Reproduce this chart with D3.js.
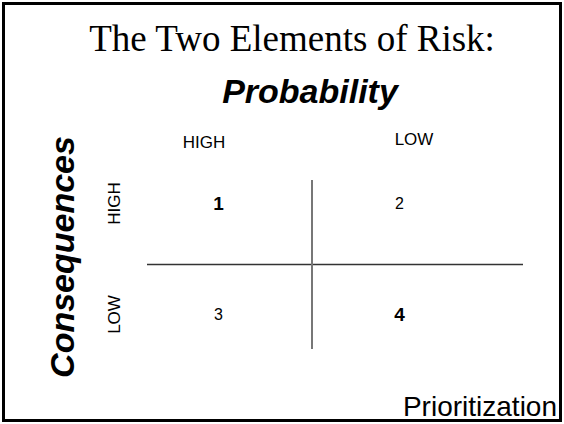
<!DOCTYPE html>
<html>
<head>
<meta charset="utf-8">
<script src="https://cdn.jsdelivr.net/npm/d3@7"></script>
<style>
  html, body { margin: 0; padding: 0; background: #fff; }
  svg { display: block; }
</style>
</head>
<body>
<div id="chart"></div>
<script>
"use strict";

// chart content
var titleLine = "The Two Elements of Risk:";
var columnTitle = "Probability";
var rowTitle = "Consequences";
var footerText = "Prioritization";

var probabilityLevels = ["HIGH", "LOW"];
var consequenceLevels = ["HIGH", "LOW"];

// priority rank of each quadrant
var cellProbability = ["HIGH", "LOW", "HIGH", "LOW"];
var cellConsequence = ["HIGH", "HIGH", "LOW", "LOW"];
var cellRank = [1, 2, 3, 4];

var width = 564, height = 424;
var sans = "Arial, 'Liberation Sans', Helvetica, sans-serif";
var serif = "'Times New Roman', 'Liberation Serif', Times, serif";

var svg = d3.select("#chart").append("svg")
    .attr("width", width)
    .attr("height", height);

// frame
svg.append("rect")
    .attr("x", 3.5).attr("y", 3.5)
    .attr("width", width - 7).attr("height", height - 7)
    .attr("fill", "#fff")
    .attr("stroke", "#000")
    .attr("stroke-width", 3);

// scales for the 2x2 grid
var x = d3.scaleBand().domain(probabilityLevels).range([128, 490]);
var y = d3.scaleBand().domain(consequenceLevels).range([148, 370]);
var headerX = d3.scalePoint().domain(probabilityLevels).range([204, 414]);

svg.append("text")
    .attr("x", 292).attr("y", 51)
    .attr("text-anchor", "middle")
    .style("font-family", serif)
    .style("font-size", "37px")
    .text(titleLine);

svg.append("text")
    .attr("x", 310).attr("y", 103)
    .attr("text-anchor", "middle")
    .style("font-family", sans)
    .style("font-size", "34px")
    .style("font-weight", "bold")
    .style("font-style", "italic")
    .text(columnTitle);

svg.append("text")
    .attr("transform", "translate(74," + 257 + ") rotate(-90)")
    .attr("text-anchor", "middle")
    .style("font-family", sans)
    .style("font-size", "34px")
    .style("font-weight", "bold")
    .style("font-style", "italic")
    .text(rowTitle);

// column headers
svg.selectAll("text.col-head")
    .data(probabilityLevels)
  .enter().append("text")
    .attr("class", "col-head")
    .attr("x", function (d) { return headerX(d); })
    .attr("y", function (d, i) { return i === 0 ? 148 : 145; })
    .attr("text-anchor", "middle")
    .style("font-family", sans)
    .style("font-size", "17px")
    .text(function (d) { return d; });

// row headers, rotated
svg.selectAll("text.row-head")
    .data(consequenceLevels)
  .enter().append("text")
    .attr("class", "row-head")
    .attr("transform", function (d) {
        return "translate(120," + (y(d) + y.bandwidth() / 2) + ") rotate(-90)";
    })
    .attr("text-anchor", "middle")
    .style("font-family", sans)
    .style("font-size", "17px")
    .text(function (d) { return d; });

// divider lines
svg.append("line")
    .attr("x1", 147).attr("x2", 523)
    .attr("y1", 264.5).attr("y2", 264.5)
    .attr("stroke", "#333")
    .attr("stroke-width", 1.5);

svg.append("line")
    .attr("x1", 312).attr("x2", 312)
    .attr("y1", 180).attr("y2", 349)
    .attr("stroke", "#777")
    .attr("stroke-width", 2);

// quadrant ranks, extremes in bold
var cells = cellRank.map(function (r, i) {
    return {rank: r, p: cellProbability[i], c: cellConsequence[i]};
});
var rankMin = d3.min(cellRank), rankMax = d3.max(cellRank);
function isExtreme(d) { return d.rank === rankMin || d.rank === rankMax; }

svg.selectAll("text.rank")
    .data(cells)
  .enter().append("text")
    .attr("class", "rank")
    .attr("x", function (d) { return x(d.p) + x.bandwidth() / 2; })
    .attr("y", function (d) { return y(d.c) + y.bandwidth() / 2; })
    .attr("dy", "0.35em")
    .attr("text-anchor", "middle")
    .style("font-family", sans)
    .style("font-weight", function (d) { return isExtreme(d) ? "bold" : "normal"; })
    .style("font-size", function (d) { return isExtreme(d) ? "19px" : "16px"; })
    .text(function (d) { return d.rank; });

svg.append("text")
    .attr("x", 557).attr("y", 416)
    .attr("text-anchor", "end")
    .style("font-family", sans)
    .style("font-size", "28px")
    .text(footerText);
</script>
</body>
</html>
